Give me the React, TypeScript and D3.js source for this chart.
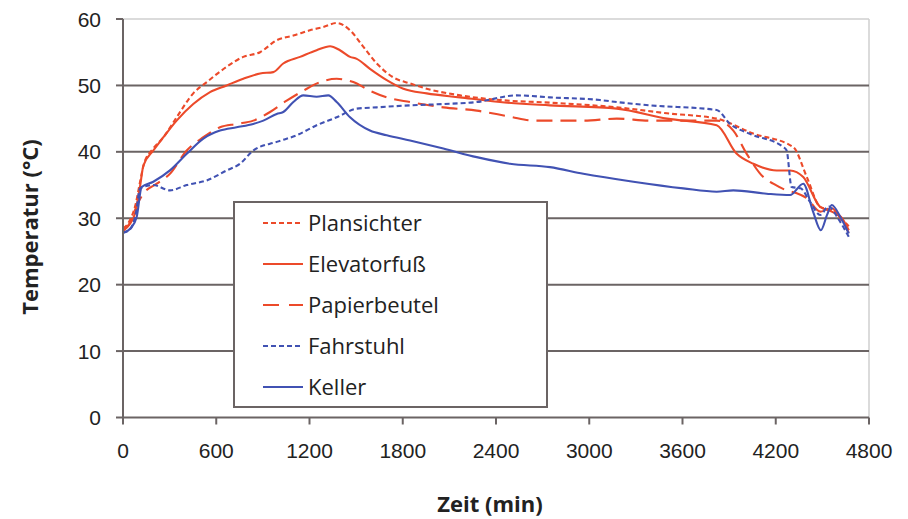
import * as d3 from 'd3'

const W = 908
const H = 519
const M = { left: 123, right: 39, top: 19, bottom: 101.5 }

const xTicks = [0, 600, 1200, 1800, 2400, 3000, 3600, 4200, 4800]
const yTicks = [0, 10, 20, 30, 40, 50, 60]

// [Zeit (min), Temperatur (°C)]
const plansichter: [number, number][] = [
  [0, 28.5], [40, 29.5], [80, 32], [110, 35.5], [135, 38.2], [195, 40.5], [260, 42.2], [345, 45.2],
  [452, 48.8], [539, 50.5], [667, 52.8], [774, 54.3], [882, 55.0], [989, 56.8], [1096, 57.5],
  [1203, 58.3], [1289, 58.8], [1375, 59.4], [1461, 58.3], [1547, 55.8], [1633, 53.3], [1740, 51.2],
  [1847, 50.3], [1954, 49.5], [2169, 48.5], [2426, 47.8], [2747, 47.4], [3177, 46.7], [3500, 45.8],
  [3820, 45.0], [4050, 42.8], [4313, 40.7], [4400, 36.2], [4486, 31.7], [4560, 31.2], [4620, 30.0], [4670, 28.8],
]

const elevatorfuss: [number, number][] = [
  [0, 28.2], [40, 29], [77, 30.7], [109, 34.7], [131, 37.9], [195, 40.2], [260, 42.2], [345, 44.7],
  [452, 47.2], [560, 49.0], [667, 50.0], [774, 51.0], [882, 51.8], [967, 52.0], [1031, 53.3],
  [1139, 54.3], [1246, 55.3], [1332, 55.9], [1396, 55.3], [1461, 54.3], [1504, 54.0], [1589, 52.5],
  [1697, 50.8], [1804, 49.5], [1954, 48.8], [2168, 48.2], [2426, 47.5], [2747, 47.0], [3177, 46.5],
  [3500, 45.0], [3820, 44.0], [3949, 39.7], [4056, 38.2], [4206, 37.2], [4292, 37.2], [4377, 36.2],
  [4486, 31.7], [4560, 31.0], [4620, 30.2], [4670, 28.2],
]

const papierbeutel: [number, number][] = [
  [0, 28.0], [50, 29.5], [90, 32], [131, 33.7], [217, 35.2], [302, 36.7], [410, 40.2], [517, 42.2],
  [624, 43.7], [731, 44.2], [838, 44.7], [946, 46.0], [1053, 47.7], [1160, 49.2], [1268, 50.5],
  [1375, 51.0], [1482, 50.5], [1589, 49.2], [1697, 48.2], [1847, 47.5], [2061, 46.7], [2276, 46.2],
  [2490, 45.3], [2640, 44.7], [2962, 44.7], [3177, 45.0], [3391, 44.7], [3820, 44.7], [3927, 43.2],
  [4013, 39.7], [4120, 36.2], [4184, 35.2], [4270, 34.2], [4330, 33.8], [4400, 33.0], [4486, 31.0],
  [4560, 31.5], [4620, 29.8], [4670, 27.8],
]

const fahrstuhl: [number, number][] = [
  [0, 27.8], [50, 28.5], [85, 31], [109, 34.5], [195, 35.0], [302, 34.2], [410, 35.0], [539, 35.7],
  [667, 37.2], [753, 38.2], [838, 40.2], [989, 41.5], [1118, 42.5], [1246, 44.0], [1375, 45.2],
  [1504, 46.5], [1633, 46.7], [1847, 47.0], [2061, 47.2], [2276, 47.5], [2533, 48.5], [2747, 48.2],
  [3069, 47.8], [3177, 47.5], [3391, 47.0], [3820, 46.3], [3906, 44.2], [4034, 42.7], [4249, 40.7],
  [4270, 40.2], [4302, 34.7], [4360, 34.5], [4420, 32.5], [4486, 30.5], [4540, 31.8], [4600, 30.0], [4670, 27.2],
]

const keller: [number, number][] = [
  [0, 27.8], [50, 28.5], [88, 30.2], [120, 34.7], [195, 35.5], [302, 37.2], [410, 39.7], [517, 42.0],
  [624, 43.2], [731, 43.7], [838, 44.2], [903, 44.7], [989, 45.7], [1031, 46.0], [1096, 47.5],
  [1160, 48.5], [1246, 48.3], [1321, 48.5], [1375, 47.5], [1461, 45.2], [1589, 43.2], [1697, 42.5],
  [1847, 41.7], [2061, 40.5], [2276, 39.2], [2490, 38.2], [2747, 37.7], [2962, 36.7], [3284, 35.5],
  [3605, 34.5], [3820, 34.0], [3927, 34.2], [4141, 33.7], [4292, 33.5], [4377, 35.2], [4440, 31.0],
  [4490, 28.2], [4530, 30.5], [4560, 32.0], [4620, 30.0], [4670, 27.7],
]

const RED = '#ec4a2a'
const BLUE = '#4152b3'

const series = [
  { name: 'Plansichter', data: plansichter, color: RED, dash: '5,3', key: '5,3' },
  { name: 'Elevatorfuß', data: elevatorfuss, color: RED, dash: '', key: '' },
  { name: 'Papierbeutel', data: papierbeutel, color: RED, dash: '16,8', key: '16,10' },
  { name: 'Fahrstuhl', data: fahrstuhl, color: BLUE, dash: '5,3', key: '5,3' },
  { name: 'Keller', data: keller, color: BLUE, dash: '', key: '' },
]

export default function App() {
  const x = d3.scaleLinear().domain([0, 4800]).range([M.left, W - M.right])
  const y = d3.scaleLinear().domain([0, 60]).range([H - M.bottom, M.top])
  const line = d3.line<[number, number]>()
    .x(d => x(d[0]))
    .y(d => y(d[1]))
    .curve(d3.curveMonotoneX)

  const x0 = x(0)
  const x1 = x(4800)
  const yb = y(0)
  const yt = y(60)
  const font = "'Open Sans', 'DejaVu Sans', sans-serif"
  const tickFont = "'Liberation Sans', Arial, sans-serif"

  return (
    <svg width={W} height={H} style={{ position: 'absolute', left: 0, top: 0, background: '#fff' }}
      fontFamily={font}>
      {/* frame */}
      <line x1={x0} x2={x1} y1={yt} y2={yt} stroke="#cfcfcf" strokeWidth={1.5} />
      <line x1={x1} x2={x1} y1={yt} y2={yb} stroke="#cfcfcf" strokeWidth={1.5} />
      {/* grid */}
      {yTicks.filter(t => t > 0 && t < 60).map(t => (
        <line key={'g' + t} x1={x0} x2={x1} y1={y(t)} y2={y(t)} stroke="#6b6464" strokeWidth={2} />
      ))}
      {/* series */}
      {series.map(s => (
        <path key={s.name} d={line(s.data) || ''} fill="none" stroke={s.color}
          strokeWidth={2.1} strokeDasharray={s.dash || undefined} />
      ))}
      {/* axes */}
      <line x1={x0} x2={x0} y1={yt} y2={yb} stroke="#6b6464" strokeWidth={2} />
      <line x1={x0} x2={x1} y1={yb} y2={yb} stroke="#6b6464" strokeWidth={2} />
      {yTicks.map(t => (
        <g key={'y' + t}>
          <line x1={x0 - 7} x2={x0} y1={y(t)} y2={y(t)} stroke="#6b6464" strokeWidth={2} />
          <text x={x0 - 22} y={y(t)} dy="0.36em" textAnchor="end" fontSize={21} fill="#222"
            fontFamily={tickFont}>{t}</text>
        </g>
      ))}
      {xTicks.map(t => (
        <g key={'x' + t}>
          <line x1={x(t)} x2={x(t)} y1={yb} y2={yb + 7} stroke="#6b6464" strokeWidth={2} />
          <text x={x(t)} y={yb + 33} dy="0.36em" textAnchor="middle" fontSize={21} fill="#222"
            fontFamily={tickFont}>{t}</text>
        </g>
      ))}
      {/* axis titles */}
      <text x={490} y={512} textAnchor="middle" fontSize={22} fontWeight="bold" fill="#222">Zeit (min)</text>
      <text transform={`translate(38,${227}) rotate(-90)`} textAnchor="middle" fontSize={22}
        fontWeight="bold" fill="#222">Temperatur (°C)</text>
      {/* legend */}
      <rect x={234} y={202} width={313} height={205} fill="#fff" stroke="#6b6464" strokeWidth={2} />
      {series.map((s, i) => (
        <g key={'l' + s.name} transform={`translate(263,${223 + i * 41})`}>
          <line x1={0} x2={40} y1={0} y2={0} stroke={s.color} strokeWidth={2.2}
            strokeDasharray={s.key || undefined} />
          <text x={45} y={0} dy="0.36em" fontSize={22} fill="#222">{s.name}</text>
        </g>
      ))}
    </svg>
  )
}
